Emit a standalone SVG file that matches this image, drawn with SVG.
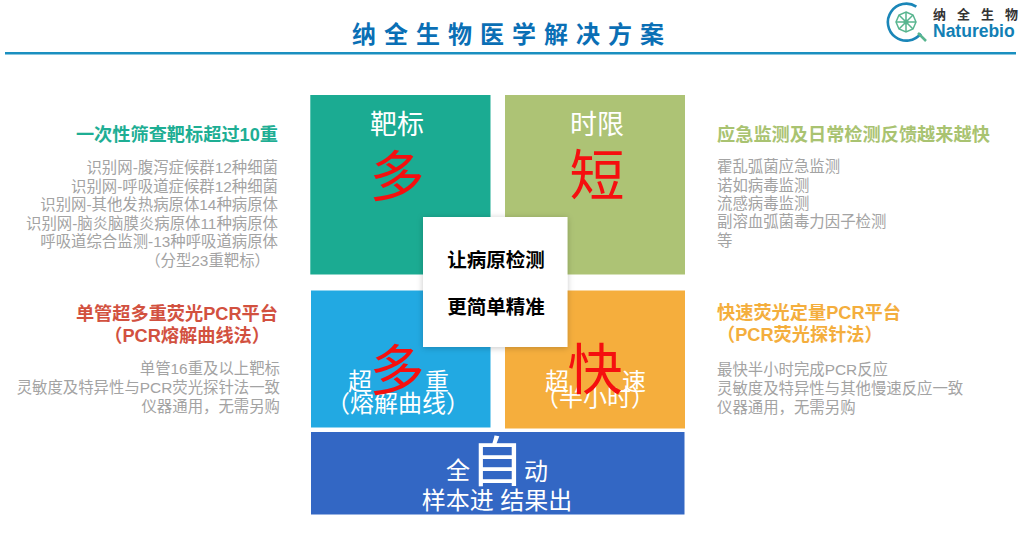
<svg xmlns="http://www.w3.org/2000/svg" width="1027" height="559" viewBox="0 0 1027 559">
<style>
text{font-family:"Liberation Sans","Noto Sans CJK SC",sans-serif}
.g{font-size:15.4px;fill:#a3a3a3}
.h{font-size:18.2px;font-weight:700}
.r{text-anchor:end}
.m{text-anchor:middle}
.w{fill:#fff}
.red{fill:#f50f0f}
</style>
<defs><filter id="s" x="-10%" y="-10%" width="120%" height="120%"><feDropShadow dx="0" dy="1" stdDeviation="3" flood-color="#000" flood-opacity=".22"/></filter></defs>
<rect width="1027" height="559" fill="#fff"/>
<g id="header">
<text x="512" y="43" class="m" font-size="24" font-weight="700" letter-spacing="8" fill="#0a6fb5" style="font-family:'Noto Sans CJK SC',sans-serif">纳全生物医学解决方案</text>
<rect x="5" y="52" width="1011" height="2.5" fill="#1a8fc0"/>
</g>
<g id="logo">
<path d="M916 38A18.500 18.500 0 1 1 921 11" fill="none" stroke="#1a86b8" stroke-width="2.600" transform="rotate(-20 906 22)"/>
<g stroke="#58b58f" stroke-width="1.500" fill="none">
<path d="M896 22H916M906 12V32M899 15L913 29M913 15L899 29"/>
<path d="M906 12L913 15L916 22L913 29L906 32L899 29L896 22L899 15Z"/>
</g>
<circle cx="906" cy="22" r="2.500" fill="#58b58f"/>
<path d="M918 33L926 41" stroke="#58b58f" stroke-width="2.500"/>
<text x="933" y="19" font-size="13" font-weight="700" fill="#333" letter-spacing="11" style="font-family:'Noto Sans CJK SC',sans-serif">纳全生物</text>
<text x="933" y="37" font-size="17.500" font-weight="700" fill="#127fb5">Naturebio</text>
</g>
<g id="left-top">
<text x="278" y="141" class="h r" fill="#1eae94">一次性筛查靶标超过10重</text>
<text x="278" y="173" class="g r">识别网-腹泻症候群12种细菌</text>
<text x="278" y="191.500" class="g r">识别网-呼吸道症候群12种细菌</text>
<text x="278" y="210" class="g r">识别网-其他发热病原体14种病原体</text>
<text x="278" y="228.500" class="g r">识别网-脑炎脑膜炎病原体11种病原体</text>
<text x="278" y="247" class="g r">呼吸道综合监测-13种呼吸道病原体</text>
<text x="270" y="265.500" class="g r">（分型23重靶标）</text>
</g>
<g id="left-bottom">
<text x="278" y="320" class="h r" fill="#d2513f">单管超多重荧光PCR平台</text>
<text x="270" y="342" class="h r" fill="#d2513f">（PCR熔解曲线法）</text>
<text x="280" y="374" class="g r">单管16重及以上靶标</text>
<text x="280" y="393" class="g r">灵敏度及特异性与PCR荧光探针法一致</text>
<text x="280" y="412" class="g r">仪器通用，无需另购</text>
</g>
<g id="right-top">
<text x="717" y="141" class="h" fill="#a9c371">应急监测及日常检测反馈越来越快</text>
<text x="717" y="172" class="g">霍乱弧菌应急监测</text>
<text x="717" y="190.500" class="g">诺如病毒监测</text>
<text x="717" y="209" class="g">流感病毒监测</text>
<text x="717" y="227" class="g">副溶血弧菌毒力因子检测</text>
<text x="717" y="245.500" class="g">等</text>
</g>
<g id="right-bottom">
<text x="717" y="319" class="h" fill="#f4ae3d">快速荧光定量PCR平台</text>
<text x="717" y="341" class="h" fill="#f4ae3d">（PCR荧光探针法）</text>
<text x="717" y="375" class="g">最快半小时完成PCR反应</text>
<text x="717" y="394" class="g">灵敏度及特异性与其他慢速反应一致</text>
<text x="717" y="413" class="g">仪器通用，无需另购</text>
</g>
<g id="node-targets">
<rect x="310.300" y="95" width="180.200" height="179.500" fill="#1bab92"/>
<text x="397" y="134" class="m w" font-size="27">靶标</text>
<text x="397" y="196" class="m red" font-size="55">多</text>
</g>
<g id="node-time">
<rect x="505" y="95" width="180" height="179.500" fill="#adc375"/>
<text x="597" y="134" class="m w" font-size="27">时限</text>
<text x="597" y="195" class="m red" font-size="55">短</text>
</g>
<g id="node-multiplex">
<rect x="311" y="290.500" width="179.500" height="137" fill="#22a9e2"/>
<text x="360" y="390" class="m w" font-size="24">超</text>
<text x="437" y="390" class="m w" font-size="24">重</text>
<text x="398" y="412" class="m w" font-size="24">（熔解曲线）</text>
<text x="397" y="390" class="m red" font-size="55">多</text>
</g>
<g id="node-speed">
<rect x="505" y="290.500" width="180" height="138" fill="#f5ae3d"/>
<text x="557" y="390" class="m w" font-size="24">超</text>
<text x="634" y="390" class="m w" font-size="24">速</text>
<text x="595" y="406" class="m w" font-size="24">（半小时）</text>
<text x="595" y="389" class="m red" font-size="55">快</text>
</g>
<g id="node-auto">
<rect x="311" y="432" width="373.500" height="82.500" fill="#3367c4"/>
<text x="458" y="479" class="m w" font-size="24">全</text>
<text x="536" y="480" class="m w" font-size="24">动</text>
<text x="497" y="482" class="m w" font-size="54">自</text>
<text x="497" y="509" class="m w" font-size="24">样本进 结果出</text>
</g>
<g id="node-center">
<rect x="423" y="217" width="144.500" height="130" fill="#fff" filter="url(#s)"/>
<text x="496" y="267" class="m" font-size="19.500" font-weight="700" fill="#000">让病原检测</text>
<text x="496" y="314" class="m" font-size="19.500" font-weight="700" fill="#000">更简单精准</text>
</g>
<g id="connectors"/>
</svg>
